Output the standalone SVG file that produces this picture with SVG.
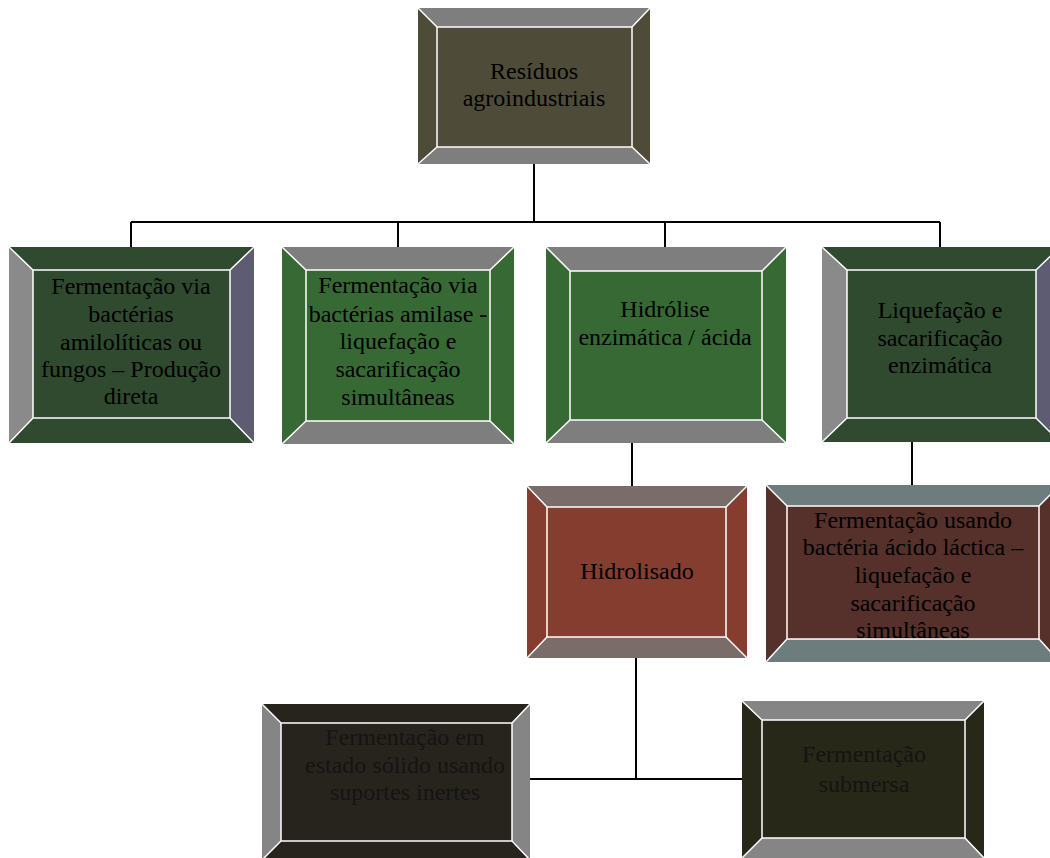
<svg xmlns="http://www.w3.org/2000/svg" width="1050" height="858" viewBox="0 0 1050 858">
<style>
text{font-family:"Liberation Serif","Times New Roman",serif;font-size:24px;fill:#000;text-anchor:middle}
.sep{fill:none;stroke:#fff;stroke-width:1.5}
.conn{fill:none;stroke:#000;stroke-width:2}
.gray{fill:#7e7e7e}
</style>
<rect width="1050" height="858" fill="#fff"/>
<g id="connectors">
<path class="conn" d="M534,164 V222 M131,222 H940 M131,222 V247 M398,222 V247 M665,222 V247 M940,222 V247"/>
<path class="conn" d="M632,443 V486 M912,442 V485"/>
<path class="conn" d="M636,658 V779" stroke-width="3"/>
<path class="conn" d="M530,779 H742"/>
</g>
<g id="n_residuos">
<rect x="418" y="8" width="232" height="156" fill="#4e4c38"/>
<polygon class="gray" points="418,8 650,8 632,27 437,27"/>
<polygon class="gray" points="418,164 650,164 632,147 437,147"/>
<rect class="sep" x="437" y="27" width="195" height="120"/>
<path class="sep" d="M418,8 L437,27 M650,8 L632,27 M418,164 L437,147 M650,164 L632,147"/>
<text x="534" y="79">Resíduos</text>
<text x="534" y="106">agroindustriais</text>
</g>
<g id="n_amiloliticas">
<rect x="9" y="247" width="245" height="196" fill="#2f4a2e"/>
<polygon fill="#8a8a8a" points="9,247 33,270 33,418 9,443"/>
<polygon fill="#5e5c72" points="254,247 230,270 230,418 254,443"/>
<rect class="sep" x="33" y="270" width="197" height="148"/>
<path class="sep" d="M9,247 L33,270 M254,247 L230,270 M9,443 L33,418 M254,443 L230,418"/>
<text x="131" y="294">Fermentação via</text>
<text x="131" y="322">bactérias</text>
<text x="131" y="350">amilolíticas ou</text>
<text x="131" y="377">fungos – Produção</text>
<text x="131" y="404">direta</text>
</g>
<g id="n_amilase">
<rect x="282" y="247" width="232" height="197" fill="#376934"/>
<polygon class="gray" points="282,247 514,247 490,270 306,270"/>
<polygon class="gray" points="282,444 514,444 490,421 306,421"/>
<rect class="sep" x="306" y="270" width="184" height="151"/>
<path class="sep" d="M282,247 L306,270 M514,247 L490,270 M282,444 L306,421 M514,444 L490,421"/>
<text x="398" y="293">Fermentação via</text>
<text x="398" y="322">bactérias amilase -</text>
<text x="398" y="349">liquefação e</text>
<text x="398" y="377">sacarificação</text>
<text x="398" y="405">simultâneas</text>
</g>
<g id="n_hidrolise">
<rect x="546" y="247" width="240" height="196" fill="#376934"/>
<polygon class="gray" points="546,247 786,247 762,271 570,271"/>
<polygon class="gray" points="546,443 786,443 762,420 570,420"/>
<rect class="sep" x="570" y="271" width="192" height="149"/>
<path class="sep" d="M546,247 L570,271 M786,247 L762,271 M546,443 L570,420 M786,443 L762,420"/>
<text x="665" y="317">Hidrólise</text>
<text x="665" y="345">enzimática / ácida</text>
</g>
<g id="n_liquefacao">
<rect x="822" y="247" width="238" height="195" fill="#2f4a2e"/>
<polygon fill="#8a8a8a" points="822,247 847,270 847,418 822,442"/>
<polygon fill="#5e5c72" points="1060,247 1036,270 1036,418 1060,442"/>
<rect class="sep" x="847" y="270" width="189" height="148"/>
<path class="sep" d="M822,247 L847,270 M1060,247 L1036,270 M822,442 L847,418 M1060,442 L1036,418"/>
<text x="940" y="318">Liquefação e</text>
<text x="940" y="346">sacarificação</text>
<text x="940" y="373">enzimática</text>
</g>
<g id="n_hidrolisado">
<rect x="527" y="486" width="220" height="172" fill="#843d2e"/>
<polygon fill="#7a6c68" points="527,486 747,486 726,507 547,507"/>
<polygon fill="#7a6c68" points="527,658 747,658 726,637 547,637"/>
<rect class="sep" x="547" y="507" width="179" height="130"/>
<path class="sep" d="M527,486 L547,507 M747,486 L726,507 M527,658 L547,637 M747,658 L726,637"/>
<text x="637" y="579">Hidrolisado</text>
</g>
<g id="n_lactica">
<rect x="766" y="485" width="294" height="177" fill="#56302a"/>
<text x="913" y="528">Fermentação usando</text>
<text x="913" y="555">bactéria ácido láctica –</text>
<text x="913" y="583">liquefação e</text>
<text x="913" y="611">sacarificação</text>
<text x="913" y="638">simultâneas</text>
<polygon fill="#6d7c7c" points="766,485 1060,485 1039,506 787,506"/>
<polygon fill="#6d7c7c" points="766,662 1060,662 1039,639 787,639"/>
<rect class="sep" x="787" y="506" width="252" height="133"/>
<path class="sep" d="M766,485 L787,506 M1060,485 L1039,506 M766,662 L787,639 M1060,662 L1039,639"/>
</g>
<g id="n_solido">
<rect x="262" y="704" width="268" height="156" fill="#27241d"/>
<polygon fill="#858585" points="262,704 281,723 281,841 262,860"/>
<polygon fill="#858585" points="530,704 512,723 512,841 530,860"/>
<rect class="sep" x="281" y="723" width="231" height="118"/>
<path class="sep" d="M262,704 L281,723 M530,704 L512,723 M262,860 L281,841 M530,860 L512,841"/>
<text x="405" y="745" style="fill:#141414">Fermentação em</text>
<text x="405" y="773" style="fill:#141414">estado sólido usando</text>
<text x="405" y="800" style="fill:#141414">suportes inertes</text>
</g>
<g id="n_submersa">
<rect x="742" y="701" width="242" height="157" fill="#282818"/>
<polygon fill="#858585" points="742,701 984,701 965,720 762,720"/>
<polygon fill="#858585" points="742,858 984,858 965,838 762,838"/>
<rect class="sep" x="762" y="720" width="203" height="118"/>
<path class="sep" d="M742,701 L762,720 M984,701 L965,720 M742,858 L762,838 M984,858 L965,838"/>
<text x="864" y="762" style="fill:#141414">Fermentação</text>
<text x="864" y="792" style="fill:#141414">submersa</text>
</g>
</svg>
